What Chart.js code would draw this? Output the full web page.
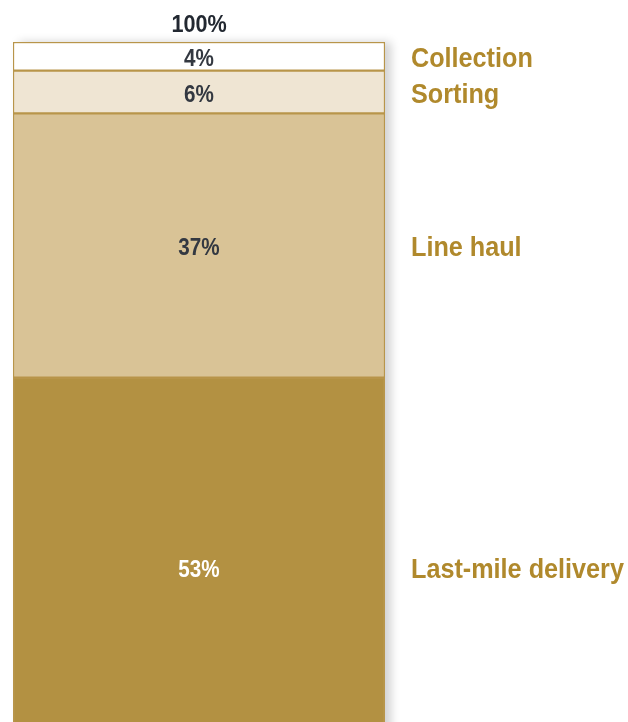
<!DOCTYPE html>
<html>
<head>
<meta charset="utf-8">
<script src="https://cdn.jsdelivr.net/npm/chart.js@4/dist/chart.umd.min.js"></script>
<style>
  html, body { margin: 0; padding: 0; background: #ffffff; }
  #wrap { width: 628px; height: 722px; position: relative; }
</style>
</head>
<body>
<div id="wrap"><canvas id="costChart"></canvas></div>
<script>
// Cost split of a parcel's journey, stacked bottom to top
const stages = ['Last-mile delivery', 'Line haul', 'Sorting', 'Collection'];
const shares = [53, 37, 6, 4];
const fills = ['#b39142', '#d9c396', '#efe5d3', '#ffffff'];
const valueColors = ['#ffffff', '#333841', '#333841', '#333841'];
const totalLabel = '100%';

const FONT = '"Liberation Sans", Arial, sans-serif';

// fillText squeezed horizontally to fake a condensed face
function condensedText(ctx, text, x, y, align, squeeze) {
    const w = ctx.measureText(text).width * squeeze;
    let left = x;
    if (align === 'center') left = x - w / 2;
    ctx.save();
    ctx.textAlign = 'left';
    ctx.translate(left, y);
    ctx.scale(squeeze, 1);
    ctx.fillText(text, 0, 0);
    ctx.restore();
}

// Soft shadow behind the column plus all the text
const labelPlugin = {
    id: 'stageLabels',
    beforeDatasetsDraw(chart) {
        const ctx = chart.ctx;
        const first = chart.getDatasetMeta(0).data[0];
        const last = chart.getDatasetMeta(stages.length - 1).data[0];
        const left = first.x - first.width / 2;
        ctx.save();
        ctx.shadowColor = 'rgba(0, 0, 0, 0.18)';
        ctx.shadowBlur = 9;
        ctx.shadowOffsetX = 6;
        ctx.fillStyle = '#ffffff';
        ctx.fillRect(left, last.y, first.width, chart.chartArea.bottom - last.y + 20);
        ctx.restore();
    },
    afterDatasetsDraw(chart) {
        const ctx = chart.ctx;
        const y = chart.scales.y;
        ctx.save();
        ctx.textBaseline = 'middle';
        let base = 0;
        stages.forEach((name, i) => {
            const bar = chart.getDatasetMeta(i).data[0];
            const mid = y.getPixelForValue(base + shares[i] / 2);
            base += shares[i];

            ctx.font = 'bold 24px ' + FONT;
            ctx.fillStyle = valueColors[i];
            condensedText(ctx, shares[i] + '%', bar.x, mid + 3, 'center', 0.86);

            ctx.font = 'bold 28px ' + FONT;
            ctx.fillStyle = '#b0892c';
            condensedText(ctx, name, chart.chartArea.right + 26, mid + 3, 'left', 0.9);
        });
        const top = chart.getDatasetMeta(stages.length - 1).data[0];
        ctx.font = 'bold 24px ' + FONT;
        ctx.fillStyle = '#222831';
        condensedText(ctx, totalLabel, top.x, y.getPixelForValue(100) - 17, 'center', 0.9);
        ctx.restore();
    }
};

const ctx = document.getElementById('costChart').getContext('2d');
new Chart(ctx, {
    type: 'bar',
    data: {
        labels: ['Cost'],
        datasets: stages.map((name, i) => ({
            label: name,
            data: [shares[i]],
            backgroundColor: fills[i],
            borderColor: '#b8954a',
            borderWidth: 1.5,
            borderSkipped: false,
            barPercentage: 1,
            categoryPercentage: 1
        }))
    },
    options: {
        responsive: true,
        maintainAspectRatio: false,
        animation: false,
        layout: {
            padding: { left: 13, right: 243, top: 42, bottom: 0 }
        },
        plugins: {
            legend: { display: false },
            tooltip: { enabled: false }
        },
        scales: {
            x: { stacked: true, display: false },
            y: { stacked: true, display: false, min: 4.8, max: 100 }
        }
    },
    plugins: [labelPlugin]
});
</script>
</body>
</html>
